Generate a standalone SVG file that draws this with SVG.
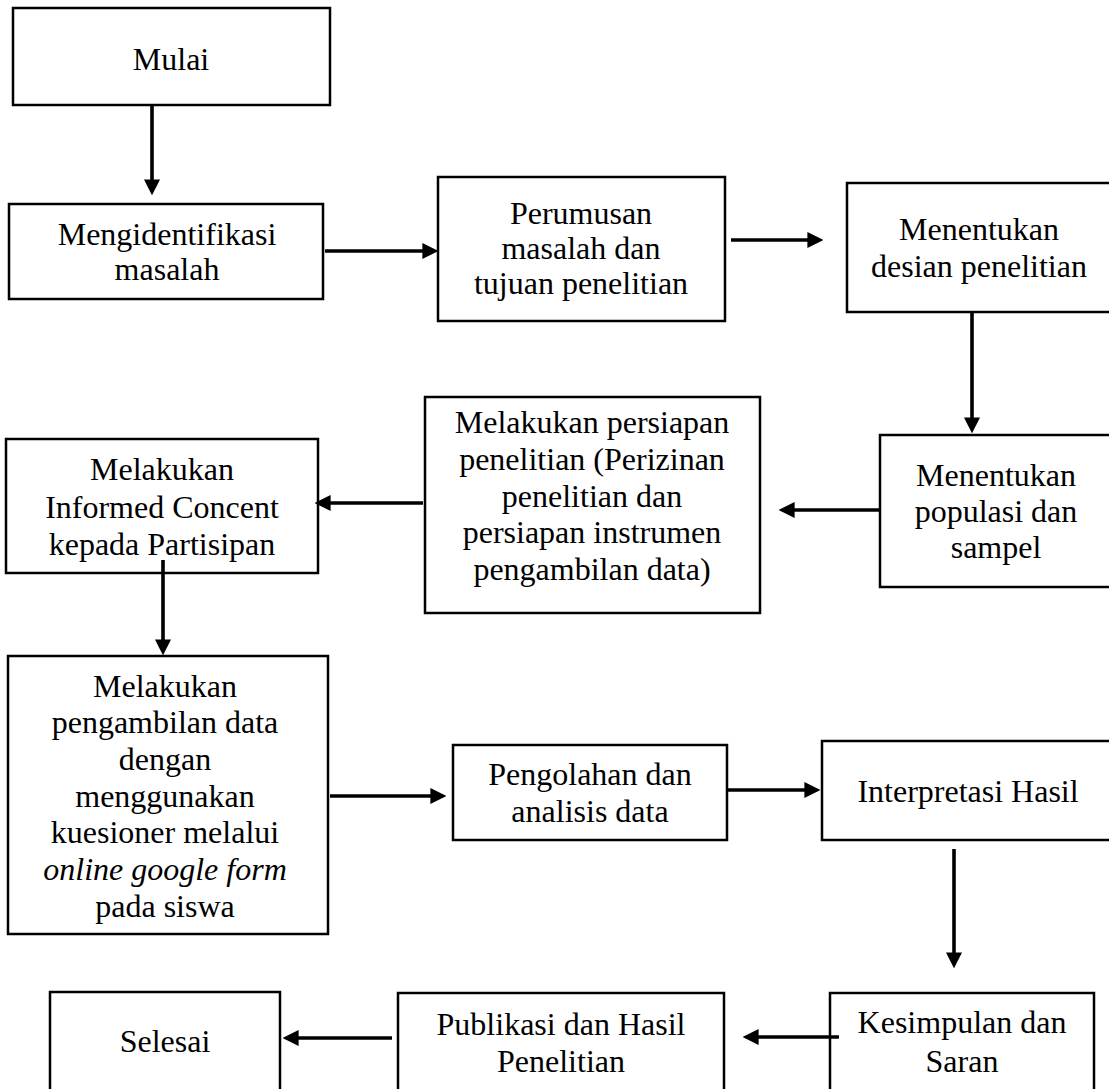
<svg xmlns="http://www.w3.org/2000/svg" width="1109" height="1089" viewBox="0 0 1109 1089">
<style>
.box{fill:#fff;stroke:#000;stroke-width:2.5}
.t{font-family:"Liberation Serif","Times New Roman",serif;font-size:32px;fill:#000;text-anchor:middle}
.it{font-style:italic}
.c{stroke:#000;stroke-width:3.6;fill:none;marker-end:url(#ah)}
</style>
<defs>
<marker id="ah" markerUnits="userSpaceOnUse" markerWidth="16" markerHeight="16" viewBox="0 0 15 15" refX="9" refY="7.5" orient="auto">
<path d="M0,0 L15,7.5 L0,15 z" fill="#000"/>
</marker>
</defs>
<rect width="1109" height="1089" fill="#fff"/>
<g id="n-mulai"><rect class="box" x="13" y="8" width="317" height="97"/><text class="t" x="171" y="70">Mulai</text></g>
<g id="n-identifikasi"><rect class="box" x="9" y="204" width="314" height="95"/><text class="t" x="167" y="245">Mengidentifikasi</text><text class="t" x="167" y="280">masalah</text></g>
<g id="n-perumusan"><rect class="box" x="438" y="177" width="287" height="144"/><text class="t" x="581" y="224">Perumusan</text><text class="t" x="581" y="259">masalah dan</text><text class="t" x="581" y="294">tujuan penelitian</text></g>
<g id="n-desain"><rect class="box" x="847" y="183" width="264" height="129"/><text class="t" x="979" y="240">Menentukan</text><text class="t" x="979" y="277">desian penelitian</text></g>
<g id="n-populasi"><rect class="box" x="880" y="435" width="232" height="152"/><text class="t" x="996" y="486">Menentukan</text><text class="t" x="996" y="522">populasi dan</text><text class="t" x="996" y="558">sampel</text></g>
<g id="n-persiapan"><rect class="box" x="425" y="397" width="335" height="216"/><text class="t" x="592" y="433">Melakukan persiapan</text><text class="t" x="592" y="470">penelitian (Perizinan</text><text class="t" x="592" y="507">penelitian dan</text><text class="t" x="592" y="543">persiapan instrumen</text><text class="t" x="592" y="580">pengambilan data)</text></g>
<g id="n-informed"><rect class="box" x="6" y="439" width="312" height="134"/><text class="t" x="162" y="480">Melakukan</text><text class="t" x="162" y="518">Informed Concent</text><text class="t" x="162" y="555">kepada Partisipan</text></g>
<g id="n-pengambilan"><rect class="box" x="8" y="656" width="320" height="278"/><text class="t" x="165" y="697">Melakukan</text><text class="t" x="165" y="733">pengambilan data</text><text class="t" x="165" y="770">dengan</text><text class="t" x="165" y="807">menggunakan</text><text class="t" x="165" y="843">kuesioner melalui</text><text class="t it" x="165" y="880">online google form</text><text class="t" x="165" y="917">pada siswa</text></g>
<g id="n-pengolahan"><rect class="box" x="453" y="745" width="274" height="95"/><text class="t" x="590" y="785">Pengolahan dan</text><text class="t" x="590" y="822">analisis data</text></g>
<g id="n-interpretasi"><rect class="box" x="822" y="741" width="292" height="99"/><text class="t" x="968" y="802">Interpretasi Hasil</text></g>
<g id="n-kesimpulan"><rect class="box" x="830" y="993" width="264" height="110"/><text class="t" x="962" y="1033">Kesimpulan dan</text><text class="t" x="962" y="1072">Saran</text></g>
<g id="n-publikasi"><rect class="box" x="398" y="993" width="326" height="110"/><text class="t" x="561" y="1035">Publikasi dan Hasil</text><text class="t" x="561" y="1072">Penelitian</text></g>
<g id="n-selesai"><rect class="box" x="50" y="992" width="230" height="110"/><text class="t" x="165" y="1052">Selesai</text></g>
<g id="connectors">
<line class="c" x1="152" y1="105" x2="152" y2="189"/>
<line class="c" x1="325" y1="251" x2="432" y2="251"/>
<line class="c" x1="731" y1="240" x2="817" y2="240"/>
<line class="c" x1="972" y1="312" x2="972" y2="427"/>
<line class="c" x1="880" y1="510" x2="785" y2="510"/>
<line class="c" x1="423" y1="503" x2="321" y2="503"/>
<line class="c" x1="163" y1="560" x2="163" y2="649"/>
<line class="c" x1="330" y1="796" x2="440" y2="796"/>
<line class="c" x1="728" y1="790" x2="814" y2="790"/>
<line class="c" x1="954" y1="849" x2="954" y2="962"/>
<line class="c" x1="839" y1="1037" x2="749" y2="1037"/>
<line class="c" x1="392" y1="1038" x2="289" y2="1038"/>
</g>
</svg>
